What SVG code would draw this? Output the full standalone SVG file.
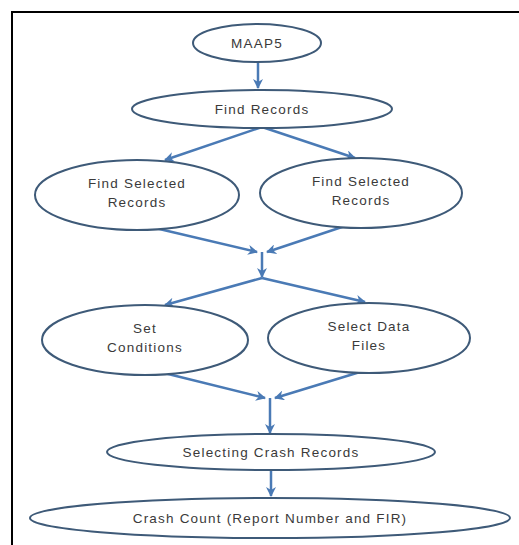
<svg xmlns="http://www.w3.org/2000/svg" width="519" height="545" viewBox="0 0 519 545">
  <defs>
    <marker id="ah" viewBox="0 0 10 10" refX="9" refY="5" markerWidth="4" markerHeight="4" orient="auto" markerUnits="strokeWidth">
      <path d="M0,0 L10,5 L0,10 L3,5 Z" fill="#4a7ab5"/>
    </marker>
  </defs>
  <style>
    .n ellipse { fill: #ffffff; stroke: #3e5a78; stroke-width: 2; }
    .n text { font-family: "Liberation Sans", Arial, sans-serif; font-size: 13.5px; fill: #3a3a3a; text-anchor: middle; letter-spacing: 1.2px; }
    .c path { fill: none; stroke: #4a7ab5; stroke-width: 2.5; marker-end: url(#ah); }
  </style>
  <rect x="0" y="0" width="519" height="545" fill="#ffffff"/>
  <path d="M12,545 V12 H519" fill="none" stroke="#000000" stroke-width="2"/>

  <g id="connectors" class="c">
    <path d="M258,62 L258,88"/>
    <path d="M262,127 L165,160"/>
    <path d="M262,127 L355,158"/>
    <path d="M155,228 L257,252"/>
    <path d="M345,226 L267,252"/>
    <path d="M262,252 L262,277"/>
    <path d="M262,278 L165,305"/>
    <path d="M262,278 L365,302"/>
    <path d="M160,372 L265,398"/>
    <path d="M360,372 L275,398"/>
    <path d="M270,398 L270,433"/>
    <path d="M271,470 L271,496"/>
  </g>

  <g id="maap5" class="n">
    <ellipse cx="257" cy="43" rx="64" ry="19"/>
    <text x="257" y="48">MAAP5</text>
  </g>
  <g id="find-records" class="n">
    <ellipse cx="262" cy="109" rx="130" ry="19"/>
    <text x="262" y="114">Find Records</text>
  </g>
  <g id="find-selected-left" class="n">
    <ellipse cx="137" cy="195" rx="102" ry="35"/>
    <text x="137" y="188">Find Selected</text>
    <text x="137" y="207">Records</text>
  </g>
  <g id="find-selected-right" class="n">
    <ellipse cx="361" cy="193" rx="101" ry="35"/>
    <text x="361" y="186">Find Selected</text>
    <text x="361" y="205">Records</text>
  </g>
  <g id="set-conditions" class="n">
    <ellipse cx="145" cy="340" rx="103" ry="35"/>
    <text x="145" y="333">Set</text>
    <text x="145" y="352">Conditions</text>
  </g>
  <g id="select-data-files" class="n">
    <ellipse cx="369" cy="338" rx="101" ry="35"/>
    <text x="369" y="331">Select Data</text>
    <text x="369" y="350">Files</text>
  </g>
  <g id="selecting-crash-records" class="n">
    <ellipse cx="271" cy="452" rx="164" ry="18"/>
    <text x="271" y="457">Selecting Crash Records</text>
  </g>
  <g id="crash-count" class="n">
    <ellipse cx="270" cy="518" rx="240" ry="20"/>
    <text x="270" y="523">Crash Count (Report Number and FIR)</text>
  </g>
</svg>
